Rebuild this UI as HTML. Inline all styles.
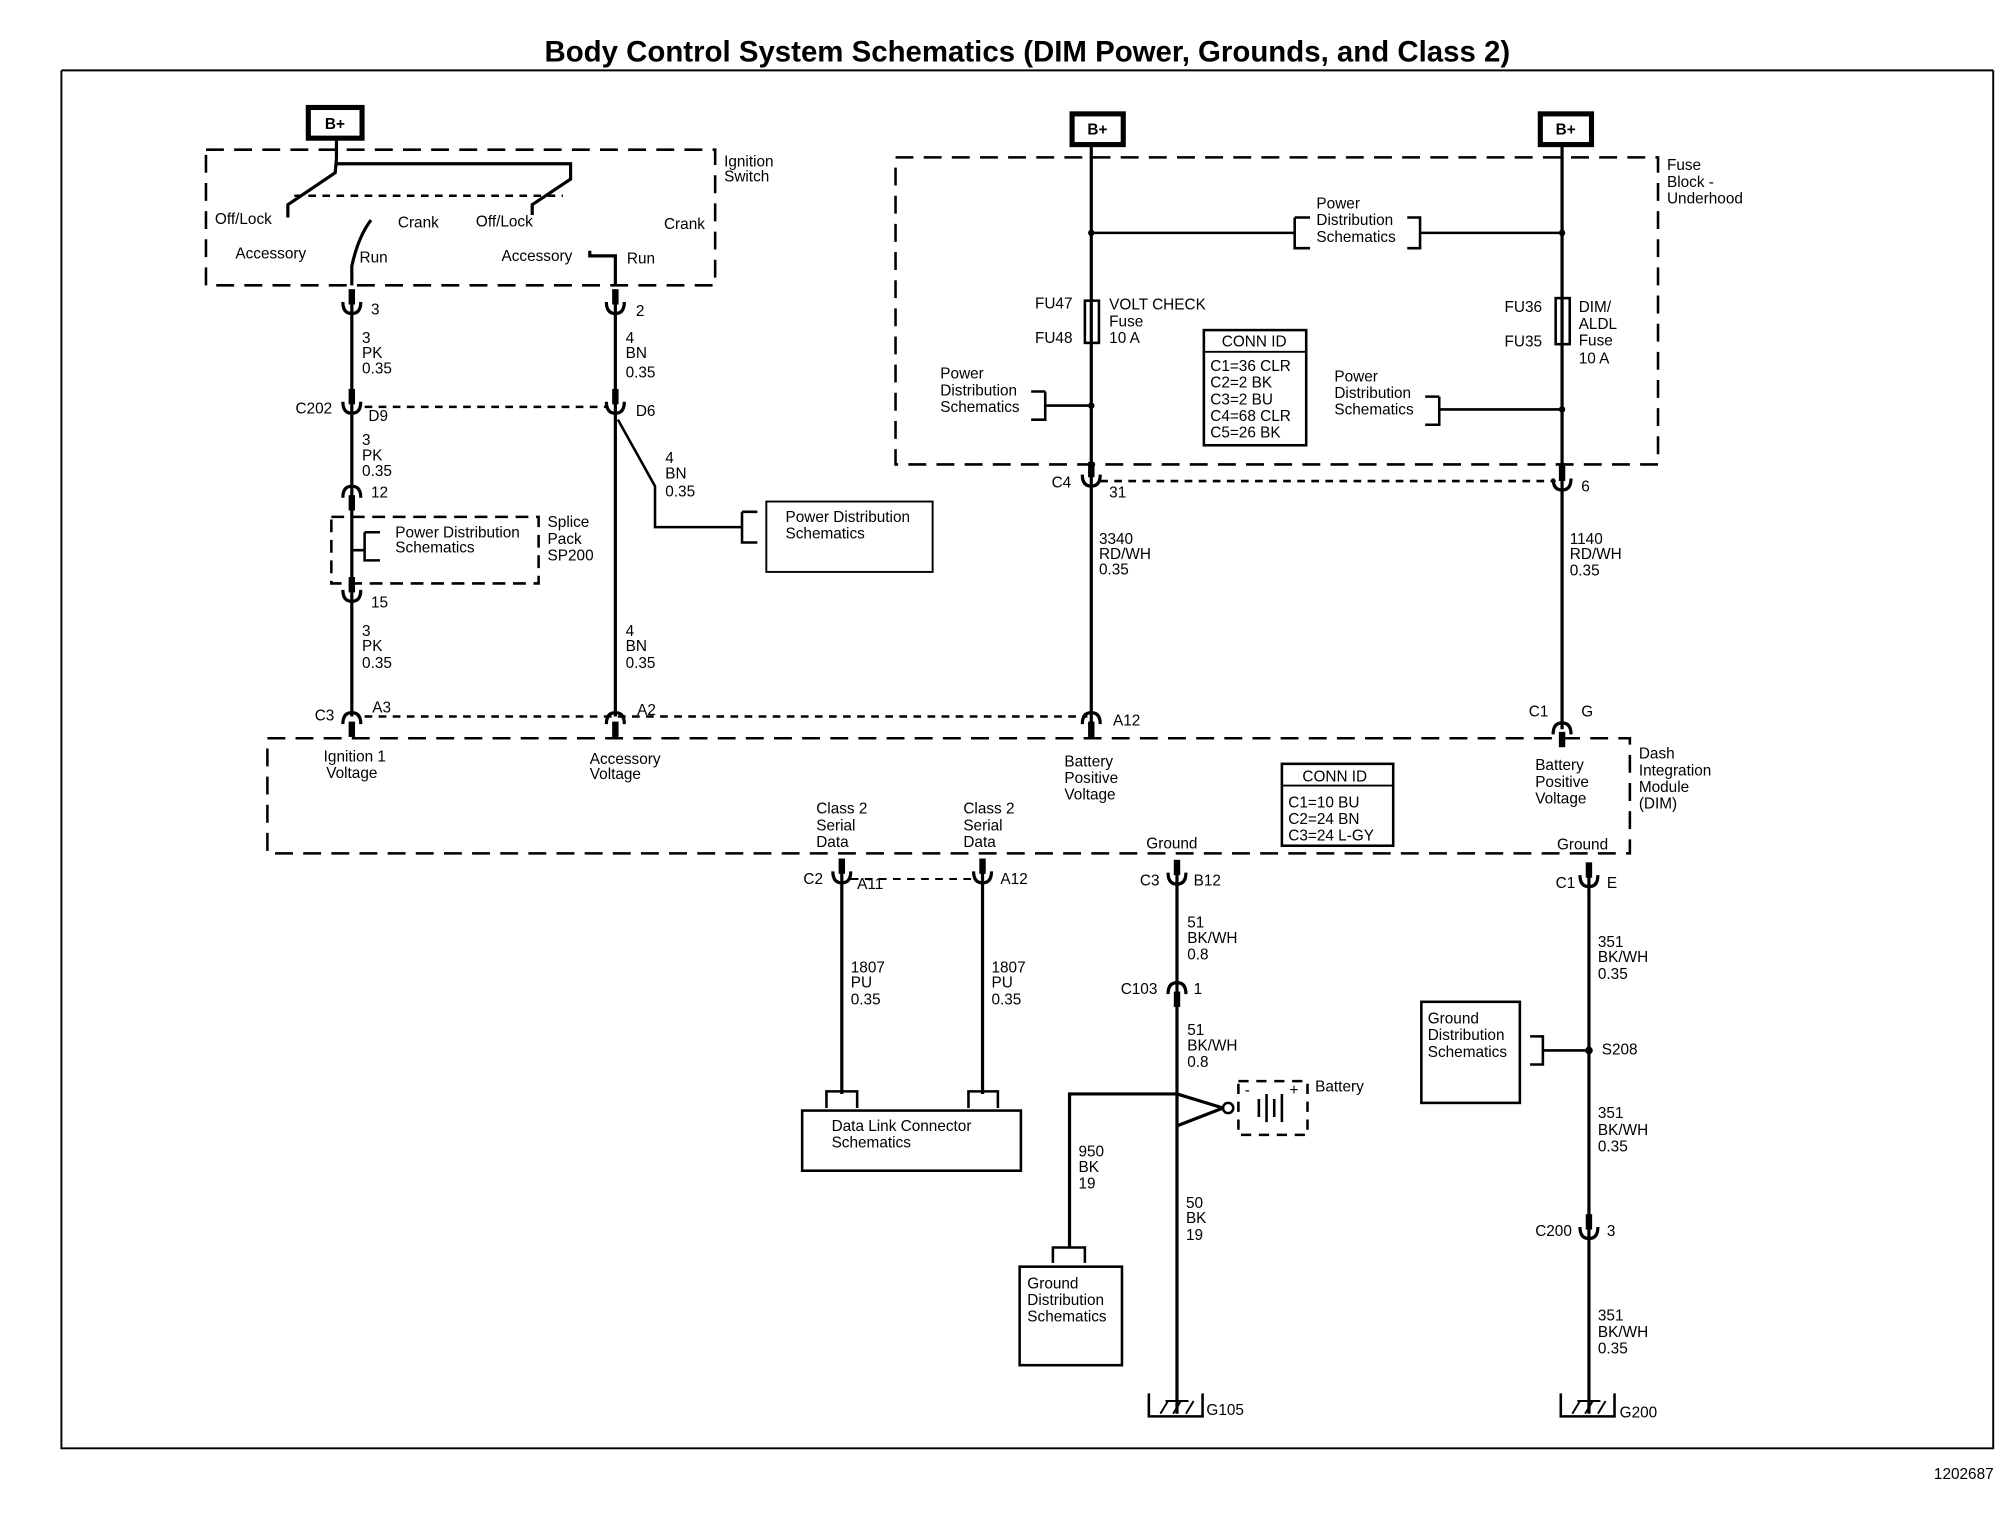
<!DOCTYPE html>
<html><head><meta charset="utf-8"><style>
html,body{margin:0;padding:0;background:#fff;}
svg{display:block;}
text{font-family:"Liberation Sans",Arial,sans-serif;font-size:12px;fill:#000;}
.t{font-size:23px;font-weight:bold;}
</style></head><body>
<svg width="2006" height="1520" viewBox="0 0 1568 1188" preserveAspectRatio="none" xmlns="http://www.w3.org/2000/svg">
<defs>
<g id="cup"><path d="M-7,-4 Q-7,5 0,5 Q7,5 7,-4" fill="none" stroke="#000" stroke-width="2.5"/><rect x="-2.5" y="-14" width="5" height="12" fill="#000"/></g>
<g id="gnd"><path d="M-21,-18 V0 H21 V-18" fill="none" stroke="#000" stroke-width="2"/><path d="M-12,-2 L-6,-12 M-2,-2 L4,-12 M8,-2 L14,-12 M-8,-12 H10" stroke="#000" stroke-width="1.5"/></g>
</defs>
<g stroke="#000" fill="none" stroke-width="2">
<path d="M48,55 H1558 M48,55 V1132 H1558 V55" stroke-width="1.5"/>
<rect x="241" y="84" width="42" height="24" stroke-width="4"/>
<rect x="838" y="89" width="40" height="24" stroke-width="4"/>
<rect x="1204" y="89" width="40" height="24" stroke-width="4"/>
<rect x="161" y="117" width="398" height="106" stroke-dasharray="14,8"/>
<path d="M263,108 V124 M263,124 L262,135 L225,160 V170 M263,128 H446 V140 L416,160 V168" stroke-width="2.5"/>
<path d="M230,153 H440" stroke-dasharray="6,5"/>
<path d="M275,223 V208 Q280,185 290,172 M481,223 V200 H461 V196" stroke-width="2.5"/>
<path d="M275,228 V560 M481,228 V560" stroke-width="2.5"/>
<path d="M483,328 L512,380 V412 H580 M580,400 H592 M580,400 V424 H592" stroke-width="2"/>
<path d="M285,318 H475 M285,560 H850 M860,376 H1216" stroke-dasharray="6,5"/>
<rect x="259" y="404" width="162" height="52" stroke-dasharray="10,6"/>
<path d="M275,430 H285 M285,416 H297 M285,416 V438 H297"/>
<rect x="599" y="392" width="130" height="55" stroke-width="1.5"/>
<rect x="700" y="123" width="596" height="240" stroke-dasharray="14,8"/>
<path d="M853,113 V570 M1221,113 V570" stroke-width="2.5"/>
<path d="M853,182 H1012 M1012,170 H1024 M1012,170 V194 H1024 M1100,170 H1110 V194 H1100 M1110,182 H1221"/>
<rect x="848" y="235" width="11" height="33" stroke-width="2"/>
<rect x="1216" y="233" width="11" height="36" stroke-width="2"/>
<path d="M817,306 H806 M817,306 V328 H806 M817,317 H853 M1125,310 H1114 M1125,310 V332 H1114 M1125,320 H1221"/>
<rect x="941" y="258" width="80" height="90" stroke-width="2"/>
<path d="M941,275 H1021" stroke-width="1.5"/>
<rect x="209" y="577" width="1065" height="90" stroke-dasharray="14,8"/>
<rect x="1002" y="597" width="87" height="64" stroke-width="2"/>
<path d="M1002,614 H1089" stroke-width="1.5"/>
<path d="M658,680 V855 M768,680 V855" stroke-width="2.5"/>
<path d="M665,687 H762" stroke-dasharray="6,5" stroke-width="1.5"/>
<path d="M646,866 V853 H670 V866 M757,866 V853 H780 V866" stroke-width="2"/>
<rect x="627" y="868" width="171" height="47" stroke-width="2"/>
<path d="M920,680 V1105 M1242,680 V1105" stroke-width="2.5"/>
<path d="M920,855 L956,866 M920,880 L956,866 M920,855 H836 V975" stroke-width="2.5"/>
<circle cx="960" cy="866" r="4" fill="#fff"/>
<rect x="968" y="845" width="54" height="42" stroke-dasharray="8,6"/>
<path d="M984,859 V873 M990,855 V877 M996,859 V873 M1002,855 V877" stroke-width="2"/>
<path d="M823,987 V975 H848 V987"/>
<rect x="797" y="990" width="80" height="77" stroke-width="2"/>
<rect x="1111" y="783" width="77" height="79" stroke-width="2"/>
<path d="M1196,810 H1206 V832 H1196 M1206,821 H1242"/>
</g>
<use href="#cup" x="275" y="240"/><use href="#cup" x="481" y="240"/>
<use href="#cup" x="275" y="318"/><use href="#cup" x="481" y="318"/>
<use href="#cup" x="275" y="385" transform="rotate(180 275 385)"/>
<use href="#cup" x="275" y="465"/>
<use href="#cup" x="275" y="562" transform="rotate(180 275 562)"/><use href="#cup" x="481" y="562" transform="rotate(180 481 562)"/>
<use href="#cup" x="853" y="562" transform="rotate(180 853 562)"/><use href="#cup" x="1221" y="570" transform="rotate(180 1221 570)"/>
<use href="#cup" x="853" y="375"/><use href="#cup" x="1221" y="378"/>
<use href="#cup" x="658" y="685"/><use href="#cup" x="768" y="685"/>
<use href="#cup" x="920" y="686"/><use href="#cup" x="1242" y="688"/>
<use href="#cup" x="920" y="773" transform="rotate(180 920 773)"/>
<use href="#cup" x="1242" y="963"/>
<use href="#gnd" x="919" y="1107"/><use href="#gnd" x="1241" y="1107"/>
<circle cx="1242" cy="821" r="3" fill="#000"/>
<circle cx="853" cy="182" r="2.5"/><circle cx="1221" cy="182" r="2.5"/>
<circle cx="853" cy="317" r="2.5"/><circle cx="1221" cy="320" r="2.5"/>
<text class="t" x="803" y="48" text-anchor="middle">Body Control System Schematics (DIM Power, Grounds, and Class 2)</text>
<text x="1535" y="1156" text-anchor="middle" font-size="11">1202687</text>
<g font-weight="bold"><text x="254" y="101">B+</text><text x="850" y="105">B+</text><text x="1216" y="105">B+</text></g>
<text x="566" y="130">Ignition</text><text x="566" y="142">Switch</text>
<text x="168" y="175">Off/Lock</text><text x="311" y="178">Crank</text><text x="372" y="177">Off/Lock</text><text x="519" y="179">Crank</text>
<text x="184" y="202">Accessory</text><text x="281" y="205">Run</text><text x="392" y="204">Accessory</text><text x="490" y="206">Run</text>
<text x="290" y="246">3</text><text x="497" y="247">2</text>
<text x="283" y="268">3</text><text x="283" y="280">PK</text><text x="283" y="292">0.35</text>
<text x="489" y="268">4</text><text x="489" y="280">BN</text><text x="489" y="295">0.35</text>
<text x="231" y="323">C202</text><text x="288" y="329">D9</text><text x="497" y="325">D6</text>
<text x="283" y="348">3</text><text x="283" y="360">PK</text><text x="283" y="372">0.35</text>
<text x="520" y="362">4</text><text x="520" y="374">BN</text><text x="520" y="388">0.35</text>
<text x="290" y="389">12</text>
<text x="309" y="420">Power Distribution</text><text x="309" y="432">Schematics</text>
<text x="428" y="412">Splice</text><text x="428" y="425">Pack</text><text x="428" y="438">SP200</text>
<text x="614" y="408">Power Distribution</text><text x="614" y="421">Schematics</text>
<text x="290" y="475">15</text>
<text x="283" y="497">3</text><text x="283" y="509">PK</text><text x="283" y="522">0.35</text>
<text x="489" y="497">4</text><text x="489" y="509">BN</text><text x="489" y="522">0.35</text>
<text x="246" y="563">C3</text><text x="291" y="557">A3</text><text x="498" y="559">A2</text>
<text x="253" y="595">Ignition 1</text><text x="255" y="608">Voltage</text>
<text x="461" y="597">Accessory</text><text x="461" y="609">Voltage</text>
<text x="1303" y="133">Fuse</text><text x="1303" y="146">Block -</text><text x="1303" y="159">Underhood</text>
<text x="1029" y="163">Power</text><text x="1029" y="176">Distribution</text><text x="1029" y="189">Schematics</text>
<text x="809" y="241">FU47</text><text x="809" y="268">FU48</text>
<text x="867" y="242">VOLT CHECK</text><text x="867" y="255">Fuse</text><text x="867" y="268">10 A</text>
<text x="1176" y="244">FU36</text><text x="1176" y="271">FU35</text>
<text x="1234" y="244">DIM/</text><text x="1234" y="257">ALDL</text><text x="1234" y="270">Fuse</text><text x="1234" y="284">10 A</text>
<text x="955" y="271">CONN ID</text>
<text x="946" y="290">C1=36 CLR</text><text x="946" y="303">C2=2 BK</text><text x="946" y="316">C3=2 BU</text><text x="946" y="329">C4=68 CLR</text><text x="946" y="342">C5=26 BK</text>
<text x="735" y="296">Power</text><text x="735" y="309">Distribution</text><text x="735" y="322">Schematics</text>
<text x="1043" y="298">Power</text><text x="1043" y="311">Distribution</text><text x="1043" y="324">Schematics</text>
<text x="822" y="381">C4</text><text x="867" y="389">31</text><text x="1236" y="384">6</text>
<text x="859" y="425">3340</text><text x="859" y="437">RD/WH</text><text x="859" y="449">0.35</text>
<text x="1227" y="425">1140</text><text x="1227" y="437">RD/WH</text><text x="1227" y="450">0.35</text>
<text x="870" y="567">A12</text><text x="1195" y="560">C1</text><text x="1236" y="560">G</text>
<text x="832" y="599">Battery</text><text x="832" y="612">Positive</text><text x="832" y="625">Voltage</text>
<text x="1200" y="602">Battery</text><text x="1200" y="615">Positive</text><text x="1200" y="628">Voltage</text>
<text x="1281" y="593">Dash</text><text x="1281" y="606">Integration</text><text x="1281" y="619">Module</text><text x="1281" y="632">(DIM)</text>
<text x="1018" y="611">CONN ID</text>
<text x="1007" y="631">C1=10 BU</text><text x="1007" y="644">C2=24 BN</text><text x="1007" y="657">C3=24 L-GY</text>
<text x="638" y="636">Class 2</text><text x="638" y="649">Serial</text><text x="638" y="662">Data</text>
<text x="753" y="636">Class 2</text><text x="753" y="649">Serial</text><text x="753" y="662">Data</text>
<text x="896" y="663">Ground</text><text x="1217" y="664">Ground</text>
<text x="628" y="691">C2</text><text x="670" y="695">A11</text><text x="782" y="691">A12</text>
<text x="891" y="692">C3</text><text x="933" y="692">B12</text><text x="1216" y="694">C1</text><text x="1256" y="694">E</text>
<text x="928" y="725">51</text><text x="928" y="737">BK/WH</text><text x="928" y="750">0.8</text>
<text x="1249" y="740">351</text><text x="1249" y="752">BK/WH</text><text x="1249" y="765">0.35</text>
<text x="665" y="760">1807</text><text x="665" y="772">PU</text><text x="665" y="785">0.35</text>
<text x="775" y="760">1807</text><text x="775" y="772">PU</text><text x="775" y="785">0.35</text>
<text x="876" y="777">C103</text><text x="933" y="777">1</text>
<text x="928" y="809">51</text><text x="928" y="821">BK/WH</text><text x="928" y="834">0.8</text>
<text x="1116" y="800">Ground</text><text x="1116" y="813">Distribution</text><text x="1116" y="826">Schematics</text>
<text x="1252" y="824">S208</text>
<text x="1028" y="853">Battery</text><text x="973" y="856">-</text><text x="1008" y="856">+</text>
<text x="650" y="884">Data Link Connector</text><text x="650" y="897">Schematics</text>
<text x="1249" y="874">351</text><text x="1249" y="887">BK/WH</text><text x="1249" y="900">0.35</text>
<text x="843" y="904">950</text><text x="843" y="916">BK</text><text x="843" y="929">19</text>
<text x="927" y="944">50</text><text x="927" y="956">BK</text><text x="927" y="969">19</text>
<text x="1200" y="966">C200</text><text x="1256" y="966">3</text>
<text x="803" y="1007">Ground</text><text x="803" y="1020">Distribution</text><text x="803" y="1033">Schematics</text>
<text x="1249" y="1032">351</text><text x="1249" y="1045">BK/WH</text><text x="1249" y="1058">0.35</text>
<text x="943" y="1106">G105</text><text x="1266" y="1108">G200</text>
</svg>
</body></html>
